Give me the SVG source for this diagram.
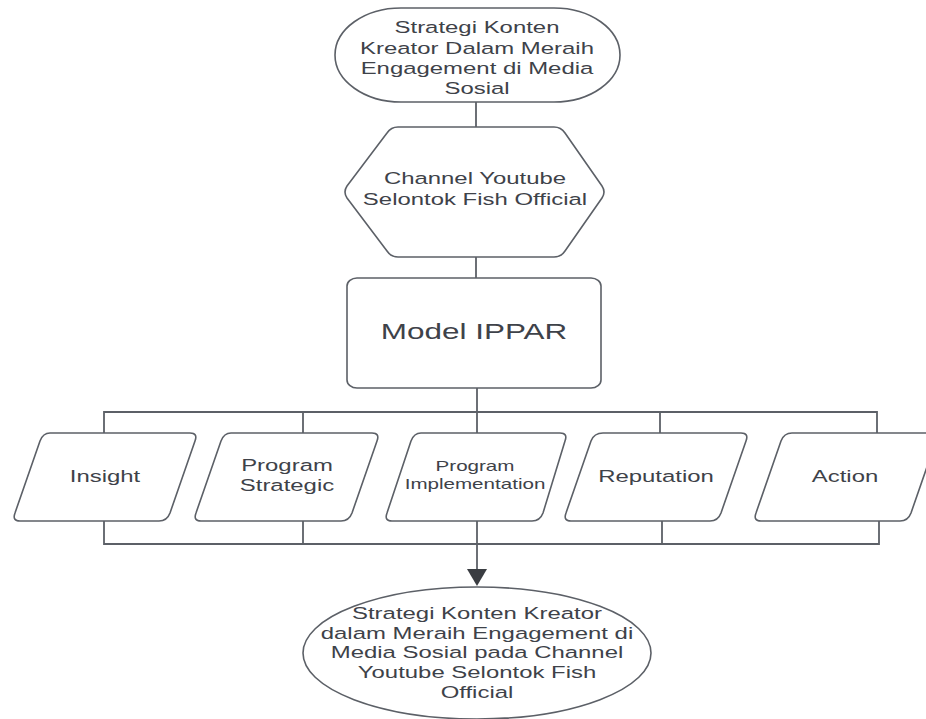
<svg xmlns="http://www.w3.org/2000/svg" width="926" height="719" viewBox="0 0 926 719">
<style>
.shape{fill:#ffffff;stroke:#5c6067;stroke-width:1.6;stroke-linejoin:round}
.conn{fill:none;stroke:#5c6067;stroke-width:1.8}
.t{font-family:"Liberation Sans",Arial,sans-serif;font-size:16.5px;fill:#3e4249;text-anchor:middle}
.big{font-size:21.7px}
.small{font-size:14.2px}
</style>
<rect width="926" height="719" fill="#ffffff"/>

<g id="connectors">
<line class="conn" x1="476" y1="102" x2="476" y2="127"/>
<line class="conn" x1="476" y1="257" x2="476" y2="278"/>
<line class="conn" x1="477" y1="388" x2="477" y2="433"/>
<polyline class="conn" points="104,433 104,412 877,412 877,433"/>
<line class="conn" x1="303" y1="412" x2="303" y2="433"/>
<line class="conn" x1="660" y1="412" x2="660" y2="433"/>
<polyline class="conn" points="104,521 104,544 879,544 879,521"/>
<line class="conn" x1="303" y1="521" x2="303" y2="544"/>
<line class="conn" x1="477" y1="521" x2="477" y2="544"/>
<line class="conn" x1="662" y1="521" x2="662" y2="544"/>
<line class="conn" x1="477" y1="544" x2="477" y2="570"/>
<path d="M467,569 L487,569 L477,586 Z" fill="#3a3d42"/>
</g>

<g id="start">
<rect class="shape" x="335" y="8" width="285" height="94" rx="66" ry="47"/>
<text class="t" transform="matrix(1.45 0 0 1 477 0)"><tspan x="0" y="33">Strategi Konten</tspan><tspan x="0" y="54">Kreator Dalam Meraih</tspan><tspan x="0" y="74.5">Engagement di Media</tspan><tspan x="0" y="94.5">Sosial</tspan></text>
</g>

<g id="channel">
<path class="shape" d="M398,127 L554,127 Q561,127 565,133 L602,186 Q606,192 602,198 L565,251 Q561,257 554,257 L398,257 Q391,257 387,251 L347,198 Q343,192 347,186 L387,133 Q391,127 398,127 Z"/>
<text class="t" transform="matrix(1.45 0 0 1 475 0)"><tspan x="0" y="184">Channel Youtube</tspan><tspan x="0" y="205">Selontok Fish Official</tspan></text>
</g>

<g id="model">
<rect class="shape" x="347" y="278" width="254" height="110" rx="10" ry="8"/>
<text class="t big" transform="matrix(1.45 0 0 1 474 0)" y="339">Model IPPAR</text>
</g>

<g id="insight">
<path class="shape" d="M50,433 L190,433 Q198,433 195,441 L170,513 Q167,521 159,521 L20,521 Q12,521 15,513 L40,441 Q43,433 50,433 Z"/>
<text class="t" transform="matrix(1.45 0 0 1 105 0)" y="482">Insight</text>
</g>

<g id="strategic">
<path class="shape" d="M231,433 L372,433 Q380,433 377,441 L352,513 Q349,521 341,521 L201,521 Q193,521 196,513 L221,441 Q224,433 231,433 Z"/>
<text class="t" transform="matrix(1.45 0 0 1 287 0)"><tspan x="0" y="471">Program</tspan><tspan x="0" y="491">Strategic</tspan></text>
</g>

<g id="implementation">
<path class="shape" d="M421,433 L560,433 Q568,433 565,441 L543,513 Q540,521 532,521 L392,521 Q384,521 387,513 L411,441 Q414,433 421,433 Z"/>
<text class="t small" transform="matrix(1.45 0 0 1 475 0)"><tspan x="0" y="471">Program</tspan><tspan x="0" y="489">Implementation</tspan></text>
</g>

<g id="reputation">
<path class="shape" d="M603,433 L741,433 Q749,433 746,441 L721,513 Q718,521 710,521 L571,521 Q563,521 566,513 L591,441 Q594,433 603,433 Z"/>
<text class="t" transform="matrix(1.45 0 0 1 656 0)" y="482">Reputation</text>
</g>

<g id="action">
<path class="shape" d="M792,433 L931,433 Q939,433 936,441 L911,513 Q908,521 900,521 L761,521 Q753,521 756,513 L781,441 Q784,433 792,433 Z"/>
<text class="t" transform="matrix(1.45 0 0 1 845 0)" y="482">Action</text>
</g>

<g id="result">
<ellipse class="shape" cx="477" cy="653" rx="174" ry="66"/>
<text class="t" transform="matrix(1.45 0 0 1 477 0)"><tspan x="0" y="619">Strategi Konten Kreator</tspan><tspan x="0" y="639">dalam Meraih Engagement di</tspan><tspan x="0" y="658.5">Media Sosial pada Channel</tspan><tspan x="0" y="678">Youtube Selontok Fish</tspan><tspan x="0" y="698.5">Official</tspan></text>
</g>
</svg>
